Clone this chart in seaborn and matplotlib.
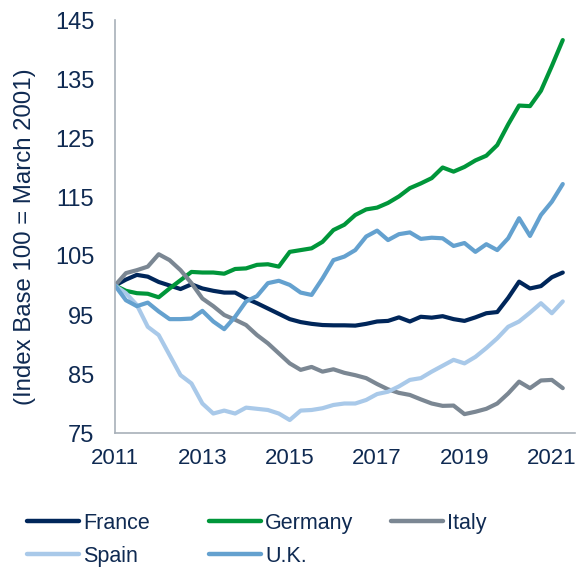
import numpy as np
import pandas as pd
import matplotlib
matplotlib.use("Agg")
import matplotlib.pyplot as plt
import seaborn as sns

# ---- data (quarterly, 2011 Q1 .. 2021 Q2) ----
start_year = 2011
n_quarters = 42
countries = ["France", "Germany", "Italy", "Spain", "U.K."]
france = [100.0, 101.0, 101.8, 101.5, 100.6, 100.0, 99.4, 100.2, 99.5, 99.1, 98.8, 98.8, 97.8, 97.0,
          96.1, 95.2, 94.3, 93.8, 93.5, 93.3, 93.25, 93.25, 93.2, 93.5, 93.9, 94.0, 94.6, 93.9,
          94.7, 94.55, 94.8, 94.3, 94.0, 94.6, 95.3, 95.5, 97.9, 100.65, 99.5, 99.9, 101.4, 102.2]
germany = [100.0, 99.1, 98.7, 98.6, 98.0, 99.5, 100.9, 102.3, 102.2, 102.2, 102.0, 102.8, 102.9, 103.5,
           103.6, 103.2, 105.7, 106.0, 106.3, 107.4, 109.4, 110.3, 111.95, 112.9, 113.2, 114.0, 115.1, 116.5,
           117.3, 118.2, 120.0, 119.3, 120.1, 121.2, 122.0, 123.8, 127.3, 130.5, 130.4, 133.0, 137.2, 141.6]
italy = [100.0, 102.1, 102.6, 103.2, 105.3, 104.3, 102.6, 100.4, 97.8, 96.5, 95.0, 94.2, 93.3, 91.6,
         90.2, 88.5, 86.8, 85.7, 86.2, 85.4, 85.8, 85.2, 84.8, 84.3, 83.3, 82.4, 81.8, 81.45,
         80.7, 80.0, 79.6, 79.65, 78.2, 78.6, 79.1, 80.0, 81.7, 83.7, 82.6, 83.9, 84.0, 82.6]
spain = [100.0, 98.7, 96.7, 93.0, 91.6, 88.2, 84.8, 83.4, 80.0, 78.3, 78.8, 78.3, 79.3, 79.1,
         78.9, 78.3, 77.2, 78.8, 78.9, 79.2, 79.75, 80.0, 80.0, 80.6, 81.6, 82.0, 82.9, 84.0,
         84.3, 85.4, 86.4, 87.4, 86.8, 87.9, 89.4, 91.05, 93.0, 93.9, 95.4, 97.0, 95.3, 97.3]
uk = [100.0, 97.5, 96.5, 97.1, 95.6, 94.3, 94.3, 94.4, 95.7, 93.9, 92.6, 94.7, 97.3, 98.2,
      100.4, 100.8, 100.1, 98.8, 98.4, 101.2, 104.3, 104.9, 106.0, 108.3, 109.3, 107.7, 108.7, 109.0,
      107.9, 108.1, 108.0, 106.7, 107.2, 105.7, 107.0, 106.0, 108.0, 111.4, 108.4, 111.95, 114.2, 117.2]
x_ticks = [2011, 2013, 2015, 2017, 2019, 2021]
y_ticks = [75, 85, 95, 105, 115, 125, 135, 145]
y_label = "(Index Base 100 = March 2001)"

colors = {"France": "#00265a", "Germany": "#00963a", "Italy": "#7b8793",
          "Spain": "#a9c9e9", "U.K.": "#64a1cf"}
text_color = "#0f2a52"
spine_color = "#a8b0b9"

time = [start_year + q / 4 for q in range(n_quarters)]
series = {"France": france, "Germany": germany, "Italy": italy, "Spain": spain, "U.K.": uk}
df = pd.concat([pd.DataFrame({"time": time, "value": v, "country": k}) for k, v in series.items()],
               ignore_index=True)

sns.set_style("white")
plt.rcParams["font.family"] = ["Liberation Sans", "DejaVu Sans"]

fig = plt.figure(figsize=(5.76, 5.69), dpi=100)
ax = fig.add_axes([115 / 576, 1 - 433 / 569, 460 / 576, 413 / 569])

sns.lineplot(data=df, x="time", y="value", hue="country", hue_order=countries,
             palette=colors, linewidth=3.0, errorbar=None, legend=False, ax=ax)
for line, name in zip(ax.lines, countries):
    line.set_label(name)
    line.set_solid_joinstyle("round")
    line.set_solid_capstyle("round")

ax.set_xlim(2011, 2021.53)
ax.set_ylim(75, 145)
ax.set_xticks(x_ticks)
ax.set_xticklabels([str(t) for t in x_ticks])
ax.set_yticks(y_ticks)
ax.set_yticklabels([str(t) for t in y_ticks])
ax.tick_params(axis="both", length=0, colors=text_color)
ax.tick_params(axis="y", pad=15, labelsize=17)
ax.tick_params(axis="x", pad=11, labelsize=16)
ax.set_xlabel("")
ax.set_ylabel(y_label, fontsize=17.3, color=text_color)
ax.yaxis.set_label_coords(-0.172, 0.475)
for side in ["top", "right"]:
    ax.spines[side].set_visible(False)
for side in ["left", "bottom"]:
    ax.spines[side].set_color(spine_color)
    ax.spines[side].set_linewidth(1.2)
ax.grid(False)

columns = [(["France", "Spain"], 27), (["Germany", "U.K."], 209), (["Italy"], 391)]
for names, xpx in columns:
    hs = []
    for n in names:
        h = plt.Line2D([], [], color=colors[n], linewidth=3.2, solid_capstyle="round")
        hs.append(h)
    leg = fig.legend(hs, names, loc="upper left", bbox_to_anchor=(xpx / 576, 1 - 513 / 569),
                     frameon=False, borderpad=0, borderaxespad=0, handlelength=2.4,
                     handletextpad=0.2, labelspacing=0.55, fontsize=15.5)
    for t in leg.get_texts():
        t.set_color(text_color)

fig.savefig("out.png", dpi=100)
